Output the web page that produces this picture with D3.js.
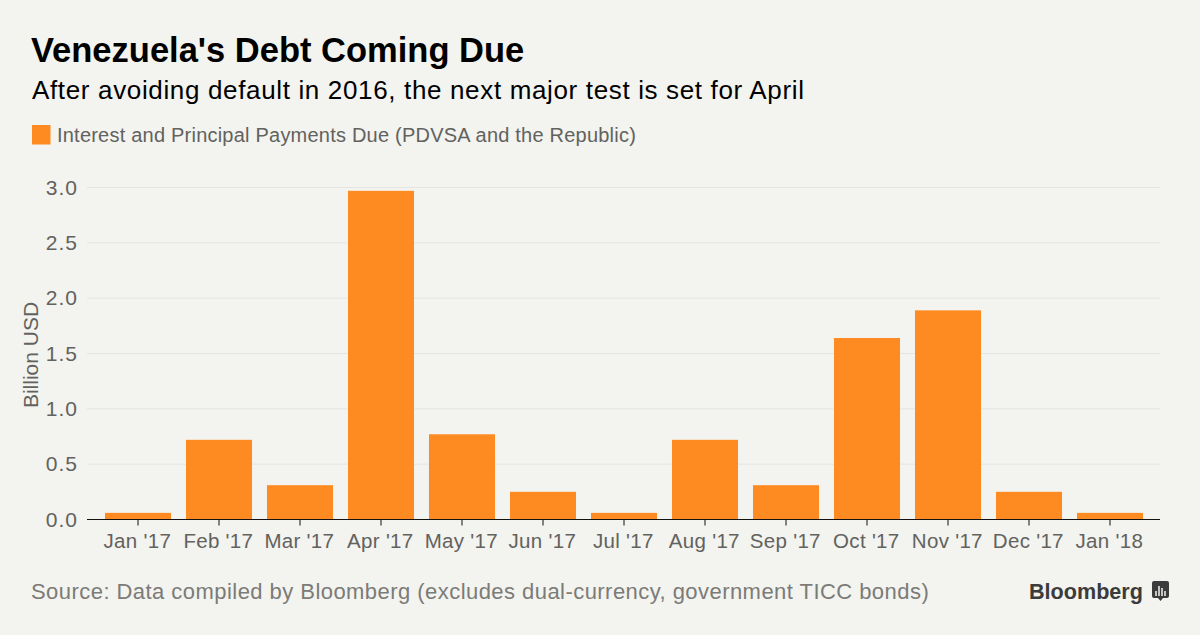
<!DOCTYPE html>
<html>
<head>
<meta charset="utf-8">
<script src="https://cdn.jsdelivr.net/npm/d3@7"></script>
<style>
  html, body { margin: 0; padding: 0; background: #f3f3ef; }
  svg { display: block; font-family: "Liberation Sans", Arial, sans-serif; }
</style>
</head>
<body>
<svg width="1200" height="635"></svg>
<script>
// Monthly payments due, billion USD
const months = ["Jan '17", "Feb '17", "Mar '17", "Apr '17", "May '17", "Jun '17", "Jul '17",
                "Aug '17", "Sep '17", "Oct '17", "Nov '17", "Dec '17", "Jan '18"];
const payments = [0.06, 0.72, 0.31, 2.97, 0.77, 0.25, 0.06, 0.72, 0.31, 1.64, 1.89, 0.25, 0.06];
const yTicks = [0, 0.5, 1, 1.5, 2, 2.5, 3];

const orange = "#fd8b21";
const svg = d3.select("svg");

// background
svg.append("rect").attr("width", 1200).attr("height", 635).attr("fill", "#f3f3ef");

// scales
const x = d3.scaleBand()
    .domain(months)
    .range([97.5, 1150.5])
    .paddingInner(0.185)
    .paddingOuter(0.0925);

const y = d3.scaleLinear()
    .domain([0, 3])
    .range([519.5, 187.5]);

// gridlines
svg.append("g")
  .selectAll("line")
  .data(yTicks.filter(d => d > 0))
  .join("line")
  .attr("x1", 87)
  .attr("x2", 1160)
  .attr("y1", d => y(d))
  .attr("y2", d => y(d))
  .attr("stroke", "#e4e4e1")
  .attr("stroke-width", 1);

// bars
svg.append("g")
  .selectAll("rect")
  .data(payments)
  .join("rect")
  .attr("x", (d, i) => x(months[i]))
  .attr("y", d => y(d))
  .attr("width", x.bandwidth())
  .attr("height", d => y(0) - y(d))
  .attr("fill", orange);

// x axis
const xAxis = svg.append("g")
  .attr("transform", `translate(0, ${y(0)})`)
  .call(d3.axisBottom(x).tickSize(6).tickPadding(8).tickSizeOuter(0));
xAxis.select(".domain").attr("d", "M87,0H1160").attr("stroke", "#111");
xAxis.selectAll(".tick line").attr("stroke", "#111");
xAxis.selectAll("text")
  .attr("font-size", 20.5)
  .attr("letter-spacing", 0.3)
  .attr("dx", -0.7)
  .attr("font-family", "Liberation Sans")
  .attr("fill", "#62625e");

// y axis labels
svg.append("g")
  .selectAll("text")
  .data(yTicks)
  .join("text")
  .attr("x", 78)
  .attr("y", d => y(d) + 7)
  .attr("text-anchor", "end")
  .attr("font-size", 21)
  .attr("letter-spacing", 1)
  .attr("fill", "#62625e")
  .text(d => d.toFixed(1));

// y axis title
svg.append("text")
  .attr("transform", "translate(38, 355) rotate(-90)")
  .attr("text-anchor", "middle")
  .attr("font-size", 21)
  .attr("fill", "#62625e")
  .text("Billion USD");

// titles
svg.append("text")
  .attr("x", 31).attr("y", 62)
  .attr("font-size", 34.5)
  .attr("font-weight", "bold")
  .attr("fill", "#000")
  .text("Venezuela's Debt Coming Due");

svg.append("text")
  .attr("x", 32).attr("y", 99)
  .attr("font-size", 26)
  .attr("letter-spacing", 0.65)
  .attr("fill", "#000")
  .text("After avoiding default in 2016, the next major test is set for April");

// legend
svg.append("rect")
  .attr("x", 32).attr("y", 125)
  .attr("width", 18.5).attr("height", 19.5)
  .attr("fill", orange);

svg.append("text")
  .attr("x", 57).attr("y", 142)
  .attr("font-size", 20)
  .attr("letter-spacing", 0.22)
  .attr("fill", "#62625e")
  .text("Interest and Principal Payments Due (PDVSA and the Republic)");

// source
svg.append("text")
  .attr("x", 31).attr("y", 599)
  .attr("font-size", 22)
  .attr("letter-spacing", 0.45)
  .attr("fill", "#7b7b77")
  .text("Source: Data compiled by Bloomberg (excludes dual-currency, government TICC bonds)");

// Bloomberg wordmark and badge
svg.append("text")
  .attr("x", 1029).attr("y", 599)
  .attr("font-size", 21.6)
  .attr("font-weight", "bold")
  .attr("fill", "#3b3b3b")
  .text("Bloomberg");

const badge = svg.append("g").attr("transform", "translate(1152, 581)");
badge.append("path")
  .attr("d", "M2,0H15Q17,0 17,2V15Q17,17 15,17H11L8.5,20L6,17H2Q0,17 0,15V2Q0,0 2,0Z")
  .attr("fill", "#3b3b3b");
badge.selectAll("line")
  .data([[4, 10], [7, 5], [10, 7], [13, 10]])
  .join("line")
  .attr("x1", d => d[0])
  .attr("x2", d => d[0])
  .attr("y1", d => d[1])
  .attr("y2", 15)
  .attr("stroke", "#f3f3ef")
  .attr("stroke-width", 1.5);
</script>
</body>
</html>
